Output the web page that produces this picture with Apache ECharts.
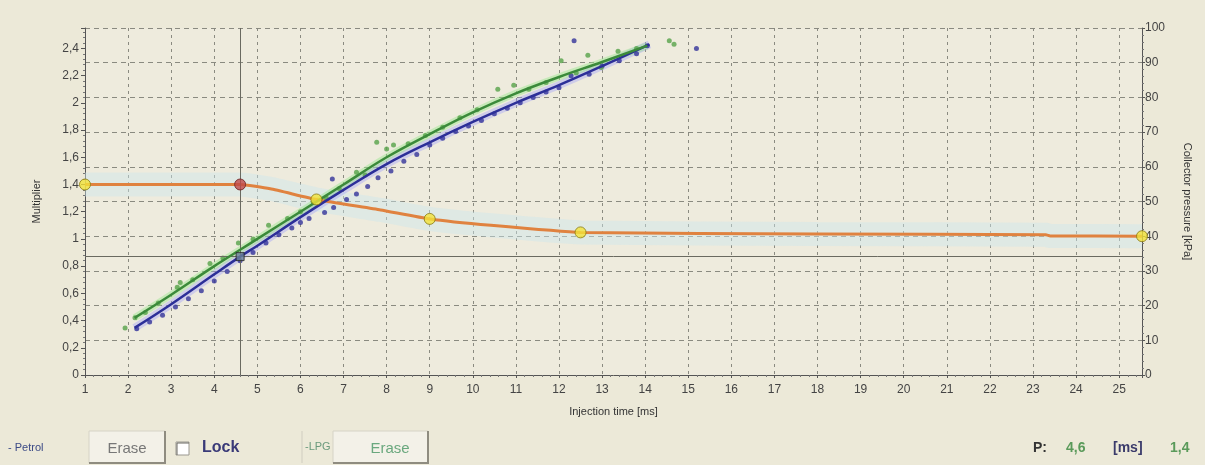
<!DOCTYPE html>
<html>
<head>
<meta charset="utf-8">
<script src="https://cdn.jsdelivr.net/npm/echarts@6/dist/echarts.min.js"></script>
<style>
html,body{margin:0;padding:0;background:#ece9d8;}
#chart{width:1205px;height:465px;}
</style>
</head>
<body>
<div id="chart"></div>
<script>
// ---- data ----
const xTicks = [1,2,3,4,5,6,7,8,9,10,11,12,13,14,15,16,17,18,19,20,21,22,23,24,25];
const leftTicks = [0,0.2,0.4,0.6,0.8,1,1.2,1.4,1.6,1.8,2,2.2,2.4];
const rightTicks = [0,10,20,30,40,50,60,70,80,90,100];

const petrolLineX = [2.15,3,4,4.6,5,6,7,8,9,10,11,12,13,14.1];
const petrolLineY = [0.346,0.52,0.74,0.87,0.95,1.16,1.36,1.55,1.71,1.86,2.0,2.13,2.27,2.43];
const lpgLineX = [2.15,3,4,4.6,5,6,7,8,9,10,11,12,13,14.05];
const lpgLineY = [0.42,0.59,0.8,0.92,1.0,1.2,1.4,1.6,1.77,1.93,2.07,2.19,2.3,2.42];

const petrolDotsX = [2.2,2.5,2.8,3.1,3.4,3.7,4.0,4.3,4.6,4.9,5.2,5.5,5.8,6.0,6.2,6.56,6.74,6.77,7.07,7.3,7.56,7.8,8.1,8.4,8.7,9.0,9.3,9.6,9.9,10.2,10.5,10.8,11.1,11.4,11.7,12.0,12.28,12.7,13.0,13.4,13.8,14.05,12.35,15.19];
const petrolDotsY = [0.34,0.39,0.44,0.5,0.56,0.62,0.69,0.76,0.84,0.9,0.97,1.03,1.08,1.12,1.15,1.195,1.44,1.23,1.29,1.33,1.386,1.45,1.5,1.57,1.62,1.69,1.74,1.79,1.83,1.87,1.92,1.96,2.0,2.04,2.08,2.11,2.2,2.21,2.27,2.31,2.36,2.42,2.456,2.40];
const lpgDotsX = [1.93,2.16,2.4,2.7,3.14,3.21,3.5,3.9,4.2,4.56,4.9,5.26,5.7,6.0,6.3,6.6,6.9,7.3,7.5,7.77,8.0,8.16,8.5,8.9,9.3,9.7,10.1,10.58,10.95,11.3,11.7,12.05,12.4,12.67,12.98,13.37,13.8,14.56,14.67];
const lpgDotsY = [0.345,0.42,0.46,0.53,0.645,0.68,0.7,0.82,0.86,0.97,1.0,1.1,1.15,1.2,1.27,1.3,1.37,1.49,1.47,1.71,1.66,1.69,1.7,1.76,1.82,1.89,1.95,2.10,2.13,2.1,2.15,2.31,2.22,2.35,2.26,2.38,2.4,2.456,2.43];

const mapLineX = [1,4.6,5.3,6.37,7.86,9,10.42,12.5,18,23.3,23.4,25.53];
const mapLineY = [1.4,1.4,1.368,1.29,1.213,1.147,1.1,1.048,1.037,1.03,1.022,1.02];
const knotX = [1,4.6,6.37,9,12.5,25.53];
const knotY = [1.4,1.4,1.29,1.147,1.048,1.02];
const knotActive = [false,true,false,false,false,false];

const cursorX = 4.6;
const cursorY = 0.87;

// ---- helpers ----
const zip = (a,b) => a.map((v,i)=>[v,b[i]]);
const fmtComma = v => String(+(+v).toFixed(1)).replace('.', ',');
const FONT = 'Liberation Sans, Arial, sans-serif';

const chart = echarts.init(document.getElementById('chart'), null, {renderer:'canvas'});

const option = {
  backgroundColor: '#ece9d8',
  animation: false,
  grid: {left:85, right:63, top:28, bottom:90, show:true, backgroundColor:'#eeebdd', borderWidth:0},
  xAxis: {
    type:'value', min:1, max:25.53, interval:1,
    name:'Injection time [ms]', nameLocation:'middle', nameGap:31,
    nameTextStyle:{fontFamily:FONT, fontSize:11, color:'#333'},
    axisLine:{show:true, onZero:false, lineStyle:{color:'#555', width:1}},
    axisTick:{show:true, length:3, lineStyle:{color:'#555'}},
    minorTick:{show:true, splitNumber:5, length:2, lineStyle:{color:'#777'}},
    axisLabel:{fontFamily:FONT, fontSize:12, color:'#444', margin:9, showMaxLabel:false,
      formatter: v => (xTicks.indexOf(v) >= 0 ? String(v) : '')},
    splitLine:{show:true, lineStyle:{color:'#8a8a80', type:[3,4], width:1}}
  },
  yAxis: [
    {
      type:'value', min:0, max:2.55, interval:0.2, position:'left',
      name:'Multiplier', nameLocation:'middle', nameGap:43,
      nameTextStyle:{fontFamily:FONT, fontSize:11, color:'#333'},
      axisLine:{show:true, onZero:false, lineStyle:{color:'#555'}},
      axisTick:{show:true, length:4, lineStyle:{color:'#555'}},
      minorTick:{show:true, splitNumber:5, length:2, lineStyle:{color:'#777'}},
      axisLabel:{fontFamily:FONT, fontSize:12, color:'#444', margin:6, showMaxLabel:false,
        formatter: v => (leftTicks.some(t=>Math.abs(t-v)<1e-6) ? fmtComma(v) : '')},
      splitLine:{show:false}
    },
    {
      type:'value', min:0, max:100, interval:10, position:'right',
      name:'Collector pressure [kPa]', nameLocation:'middle', nameGap:40, nameRotate:-90,
      nameTextStyle:{fontFamily:FONT, fontSize:11, color:'#333'},
      axisLine:{show:true, onZero:false, lineStyle:{color:'#555'}},
      axisTick:{show:true, length:3, lineStyle:{color:'#555'}},
      minorTick:{show:true, splitNumber:5, length:2, lineStyle:{color:'#777'}},
      axisLabel:{fontFamily:FONT, fontSize:12, color:'#444', margin:3,
        formatter: v => (rightTicks.indexOf(v) >= 0 ? String(v) : '')},
      splitLine:{show:true, lineStyle:{color:'#8a8a80', type:[5,4], width:1}}
    }
  ],
  series: [
    // pale band behind the map line
    {type:'line', yAxisIndex:0, data:zip(mapLineX,mapLineY), showSymbol:false, smooth:0.15,
     lineStyle:{color:'rgba(205,230,238,0.45)', width:24}, z:1, silent:true},
    // halos
    {type:'line', yAxisIndex:0, data:zip(petrolLineX,petrolLineY), showSymbol:false, smooth:0.4,
     lineStyle:{color:'rgba(150,150,255,0.35)', width:8}, z:2, silent:true},
    {type:'line', yAxisIndex:0, data:zip(lpgLineX,lpgLineY), showSymbol:false, smooth:0.4,
     lineStyle:{color:'rgba(150,230,140,0.45)', width:7}, z:2, silent:true},
    // map line (orange)
    {type:'line', name:'map', yAxisIndex:0, data:zip(mapLineX,mapLineY), showSymbol:false, smooth:0.15,
     lineStyle:{color:'#e0823f', width:3}, z:3,
     markLine:{silent:true, symbol:'none', label:{show:false},
       lineStyle:{color:'#6a6a60', width:1, type:'solid'},
       data:[{xAxis:cursorX},{yAxis:cursorY}]}},
    // scatter dots
    {type:'scatter', name:'Petrol pts', yAxisIndex:0, data:zip(petrolDotsX,petrolDotsY), symbolSize:5,
     itemStyle:{color:'#33339a'}, z:4},
    {type:'scatter', name:'LPG pts', yAxisIndex:0, data:zip(lpgDotsX,lpgDotsY), symbolSize:5,
     itemStyle:{color:'#56a24a'}, z:4},
    // fitted lines
    {type:'line', name:'Petrol', yAxisIndex:0, data:zip(petrolLineX,petrolLineY), showSymbol:false, smooth:0.4,
     lineStyle:{color:'#2c2f98', width:2.5}, z:5},
    {type:'line', name:'LPG', yAxisIndex:0, data:zip(lpgLineX,lpgLineY), showSymbol:false, smooth:0.4,
     lineStyle:{color:'#3b8a3a', width:2.5}, z:5},
    // knots
    {type:'scatter', yAxisIndex:0, symbol:'circle', symbolSize:11, z:7,
     data: knotX.map((x,i)=>({value:[x,knotY[i]],
       itemStyle: knotActive[i] ? {color:'#c04848', borderColor:'#6a2020', borderWidth:1}
                                : {color:'#f2e23a', borderColor:'#8a7a10', borderWidth:1}}))},
    // cursor square
    {type:'scatter', yAxisIndex:0, symbol:'rect', symbolSize:8, z:7,
     data:[[cursorX,cursorY]], itemStyle:{color:'#6b8296', borderColor:'#222', borderWidth:1}}
  ],
  graphic: [
    {type:'text', left:8, top:442, style:{text:'- Petrol', font:'11px '+FONT, fill:'#3b4a86'}},
    {type:'rect', shape:{x:89, y:431, width:76, height:32}, style:{fill:'#f3f1e8', stroke:'#d6d3c6', lineWidth:1}},
    {type:'polyline', shape:{points:[[165,431],[165,463],[89,463]]}, style:{stroke:'#8f8c80', lineWidth:2, fill:null}},
    {type:'text', x:127, y:449, style:{text:'Erase', font:'15px '+FONT, fill:'#777', align:'center', verticalAlign:'middle'}},
    {type:'rect', shape:{x:176, y:442, width:13, height:13}, style:{fill:'#ffffff', stroke:'#9a9890', lineWidth:1}},
    {type:'polyline', shape:{points:[[177,455],[177,443],[189,443]]}, style:{stroke:'#6a6860', lineWidth:1, fill:null}},
    {type:'text', left:202, top:440, style:{text:'Lock', font:'bold 16px '+FONT, fill:'#3a3a78'}},
    {type:'line', shape:{x1:302, y1:431, x2:302, y2:463}, style:{stroke:'#d0cdc0', lineWidth:1}},
    {type:'text', left:305, top:441, style:{text:'-LPG', font:'11px '+FONT, fill:'#6a9a7c'}},
    {type:'rect', shape:{x:333, y:431, width:95, height:32}, style:{fill:'#f3f1e8', stroke:'#d6d3c6', lineWidth:1}},
    {type:'polyline', shape:{points:[[428,431],[428,463],[333,463]]}, style:{stroke:'#8f8c80', lineWidth:2, fill:null}},
    {type:'text', x:390, y:449, style:{text:'Erase', font:'15px '+FONT, fill:'#6aa87e', align:'center', verticalAlign:'middle'}},
    {type:'text', left:1033, top:441, style:{text:'P:', font:'bold 14px '+FONT, fill:'#333'}},
    {type:'text', left:1066, top:441, style:{text:'4,6', font:'bold 14px '+FONT, fill:'#5a9a5a'}},
    {type:'text', left:1113, top:441, style:{text:'[ms]', font:'bold 14px '+FONT, fill:'#3a3a6a'}},
    {type:'text', left:1170, top:441, style:{text:'1,4', font:'bold 14px '+FONT, fill:'#5a9a5a'}}
  ]
};
chart.setOption(option);
</script>
</body>
</html>
